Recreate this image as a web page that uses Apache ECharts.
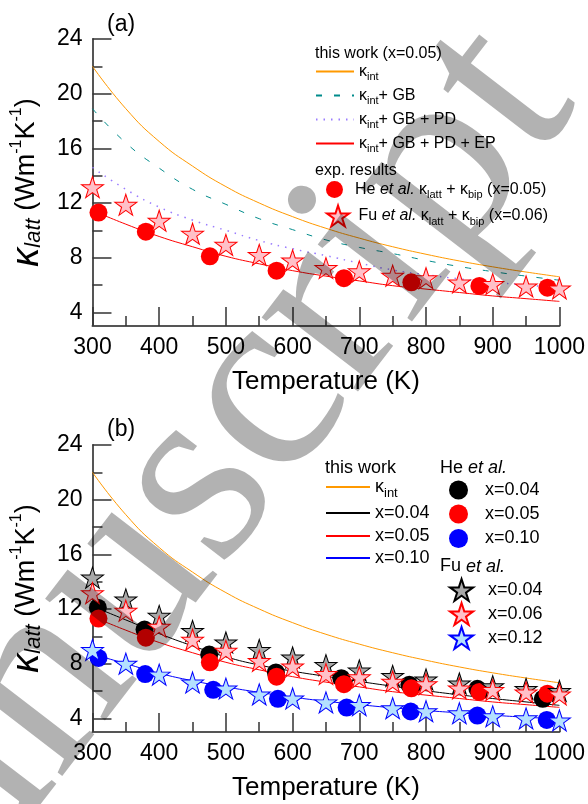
<!DOCTYPE html>
<html>
<head>
<meta charset="utf-8">
<script src="https://cdn.jsdelivr.net/npm/echarts@6/dist/echarts.min.js"></script>
<style>
  html, body { margin: 0; padding: 0; background: #fff; }
  #chart { width: 588px; height: 804px; }
</style>
</head>
<body>
<div id="chart"></div>
<script>
const FONT = '"Liberation Sans", Arial, sans-serif';

// model curves (this work)
const tModel = [300, 350, 400, 450, 500, 550, 600, 650, 700, 750, 800, 850, 900, 950, 1000];
const kInt = [22.0, 18.9, 16.5, 14.7, 13.2, 12.0, 11.0, 10.15, 9.43, 8.8, 8.25, 7.76, 7.33, 6.95, 6.6];
const kGB = [18.9, 16.4, 14.55, 13.0, 11.9, 10.85, 10.05, 9.3, 8.75, 8.3, 7.8, 7.35, 6.98, 6.65, 6.35];
const kPD = [14.6, 13.0, 11.7, 10.75, 10.0, 9.25, 8.65, 8.15, 7.6, 7.1, 6.75, 6.45, 6.2, 6.0, 5.8];
const kEP05 = [11.45, 10.45, 9.55, 8.8, 8.1, 7.55, 7.05, 6.65, 6.3, 5.95, 5.7, 5.45, 5.2, 5.0, 4.8];
const kEP04 = [12.2, 11.2, 10.2, 9.3, 8.5, 7.9, 7.45, 7.07, 6.7, 6.35, 6.02, 5.72, 5.45, 5.2, 4.95];
const kEP10 = [8.7, 8.0, 7.3, 6.75, 6.3, 5.9, 5.55, 5.25, 5.0, 4.77, 4.57, 4.4, 4.23, 4.08, 3.95];

// He et al.
const tHe04 = [308, 378, 475, 575, 673, 775, 877, 975];
const he04 = [12.1, 10.5, 8.67, 7.36, 6.94, 6.46, 6.16, 5.43];
const tHe05 = [309, 380, 476, 576, 677, 778, 880, 982];
const he05 = [11.3, 9.9, 8.1, 7.05, 6.5, 6.2, 5.93, 5.8];
const tHe10 = [309, 379, 481, 578, 681, 777, 877, 981];
const he10 = [8.42, 7.24, 6.09, 5.43, 4.79, 4.5, 4.2, 3.88];

// Fu et al.
const tFu = [300, 350, 400, 450, 500, 550, 600, 650, 700, 750, 800, 850, 900, 950, 1000];
const fu04 = [14.3, 12.7, 11.5, 10.4, 9.55, 9.0, 8.45, 7.9, 7.5, 7.1, 6.85, 6.55, 6.35, 6.15, 6.0];
const fu06 = [13.16, 11.87, 10.7, 9.75, 8.94, 8.2, 7.8, 7.24, 7.0, 6.68, 6.5, 6.19, 6.07, 5.9, 5.75];
const fu12 = [9.0, 8.0, 7.2, 6.62, 6.18, 5.75, 5.45, 5.17, 4.97, 4.74, 4.52, 4.37, 4.15, 4.0, 3.85];

const yMajor = [4, 8, 12, 16, 20, 24];
const yMinor = [6, 10, 14, 18, 22];

const STAR = 'path://M0,-10 L2.245,-3.09 L9.51,-3.09 L3.633,1.18 L5.88,8.09 L0,3.82 L-5.88,8.09 L-3.633,1.18 L-9.51,-3.09 L-2.245,-3.09 Z';

function zip(xs, ys) {
  return xs.map((x, i) => [x, ys[i]]);
}

const labels = {
  a_int: '{k|κ}{s|int}',
  a_gb: '{k|κ}{s|int}{n|+ GB}',
  a_pd: '{k|κ}{s|int}{n|+ GB + PD}',
  a_ep: '{k|κ}{s|int}{n|+ GB + PD + EP}',
  a_he: '{n|He }{i|et al.}{n| }{k|κ}{s|latt}{n| + }{k|κ}{s|bip}{n| (x=0.05)}',
  a_fu: '{n|Fu }{i|et al.}{n| }{k|κ}{s|latt}{n| + }{k|κ}{s|bip}{n| (x=0.06)}',
  b_int: '{k|κ}{s|int}',
  b_l04: '{n|x=0.04}',
  b_l05: '{n|x=0.05}',
  b_l10: '{n|x=0.10}',
  b_he04: '{n|x=0.04}',
  b_he05: '{n|x=0.05}',
  b_he10: '{n|x=0.10}',
  b_fu04: '{n|x=0.04}',
  b_fu06: '{n|x=0.06}',
  b_fu12: '{n|x=0.12}'
};

function rich(fs) {
  const lh = Math.round(fs * 1.4);
  const sub = Math.round(fs * 0.7);
  return {
    n: { fontSize: fs, lineHeight: lh, fontFamily: FONT, color: '#000' },
    i: { fontSize: fs, lineHeight: lh, fontFamily: FONT, fontStyle: 'italic', color: '#000' },
    k: { fontSize: fs, lineHeight: lh, fontFamily: FONT, color: '#000' },
    s: { fontSize: sub, lineHeight: sub, fontFamily: FONT, verticalAlign: 'bottom', color: '#000' }
  };
}

// one legend box per entry, so every row sits where it does in the figure
function leg(name, left, cy, w, h, fs, isLine) {
  const lh = Math.round(fs * 1.4);
  const ih = isLine ? 3 : h;
  const o = {
    data: [name], left: left, top: cy + 0.5 - Math.max(ih, lh) / 2,
    orient: 'vertical', padding: 0, itemGap: 0,
    itemWidth: w, itemHeight: ih, selectedMode: false,
    formatter: () => labels[name],
    textStyle: { color: '#000', fontFamily: FONT, fontSize: fs, rich: rich(fs) }
  };
  if (isLine) o.itemStyle = { opacity: 0 };
  return o;
}

function xAx(gi) {
  return {
    type: 'value', gridIndex: gi, min: 300, max: 1000, interval: 100,
    name: 'Temperature (K)', nameLocation: 'middle', nameGap: 43,
    nameTextStyle: { fontSize: 26, color: '#000', fontFamily: FONT },
    axisLine: { lineStyle: { color: '#555', width: 2 } },
    axisTick: { inside: true, length: 19, lineStyle: { color: '#333', width: 1.5 } },
    minorTick: { show: true, splitNumber: 2, length: 10, lineStyle: { color: '#333', width: 1.5 } },
    axisLabel: { fontSize: 23, color: '#000', margin: 10, fontFamily: FONT, formatter: (v) => String(v) },
    splitLine: { show: false }
  };
}

function yAx(gi) {
  return {
    type: 'value', gridIndex: gi, min: 3, max: 24, position: 'left',
    name: '{k|κ}{s|latt}{n| (Wm}{p|-1}{n|K}{p|-1}{n|)}',
    nameLocation: 'middle', nameRotate: 90, nameGap: 40,
    nameTextStyle: {
      rich: {
        k: { fontSize: 38, fontStyle: 'italic', fontFamily: FONT, lineHeight: 36, color: '#000' },
        s: { fontSize: 22, fontStyle: 'italic', fontFamily: FONT, lineHeight: 22, verticalAlign: 'bottom', color: '#000' },
        n: { fontSize: 27, fontFamily: FONT, lineHeight: 36, color: '#000' },
        p: { fontSize: 16, fontFamily: FONT, lineHeight: 16, verticalAlign: 'top', color: '#000' }
      }
    },
    axisLine: { lineStyle: { color: '#555', width: 2 } },
    axisTick: { inside: true, length: 19, customValues: yMajor, lineStyle: { color: '#333', width: 1.5 } },
    axisLabel: { fontSize: 23, color: '#000', margin: 10, fontFamily: FONT, customValues: yMajor },
    splitLine: { show: false }
  };
}

function yMinorAx(gi) {
  return {
    type: 'value', gridIndex: gi, min: 3, max: 24, position: 'left',
    axisLine: { show: false },
    axisTick: { inside: true, length: 10, customValues: yMinor, lineStyle: { color: '#333', width: 1.5 } },
    axisLabel: { show: false },
    splitLine: { show: false }
  };
}

function line(name, xi, yi, data, color, type, width) {
  return {
    name: name, type: 'line', xAxisIndex: xi, yAxisIndex: yi,
    data: data, smooth: true, symbol: 'none', showSymbol: false,
    lineStyle: { color: color, width: width || 1, type: type || 'solid' },
    itemStyle: { color: color }, z: 2, silent: true
  };
}

function dots(name, xi, yi, data, color, z) {
  return {
    name: name, type: 'scatter', xAxisIndex: xi, yAxisIndex: yi,
    data: data, symbol: 'circle', symbolSize: 18,
    itemStyle: { color: color, opacity: 1 }, z: z, silent: true
  };
}

function stars(name, xi, yi, data, fill, border, z) {
  return {
    name: name, type: 'scatter', xAxisIndex: xi, yAxisIndex: yi,
    data: data, symbol: STAR, symbolSize: [22, 21],
    itemStyle: { color: fill, borderColor: border, borderWidth: 1, opacity: 1 }, z: z, silent: true
  };
}

function txt(x, y, text, fs, richStyles) {
  return {
    type: 'text', x: x, y: y, silent: true,
    style: {
      text: text, fontSize: fs, fontFamily: FONT, fill: '#000',
      verticalAlign: 'middle', rich: richStyles
    }
  };
}

const italic = (fs) => ({ i: { fontSize: fs, fontStyle: 'italic', fontFamily: FONT, fill: '#000' } });

const chart = echarts.init(document.getElementById('chart'), null, { renderer: 'canvas' });

chart.setOption({
  animation: false,
  backgroundColor: '#fff',
  grid: [
    { left: 89, top: 39, width: 470.5, height: 287 },
    { left: 89, top: 445, width: 470.5, height: 287 }
  ],
  xAxis: [xAx(0), xAx(1)],
  yAxis: [yAx(0), yMinorAx(0), yAx(1), yMinorAx(1)],
  legend: [
    leg('a_int', 315, 74, 38, 14, 16, true),
    leg('a_gb', 315, 98, 38, 14, 16, true),
    leg('a_pd', 315, 122, 38, 14, 16, true),
    leg('a_ep', 315, 146, 38, 14, 16, true),
    leg('a_he', 326, 191.5, 31, 17, 16),
    leg('a_fu', 326, 215, 31, 21, 16),
    leg('b_int', 325, 490, 44, 14, 18, true),
    leg('b_l04', 325, 516, 44, 14, 18, true),
    leg('b_l05', 325, 539, 44, 14, 18, true),
    leg('b_l10', 325, 561, 44, 14, 18, true),
    leg('b_he04', 449, 492.5, 43, 19, 18),
    leg('b_he05', 449, 516.5, 43, 19, 18),
    leg('b_he10', 449, 541, 43, 19, 18),
    leg('b_fu04', 449, 590, 43, 22, 18),
    leg('b_fu06', 449, 614, 43, 22, 18),
    leg('b_fu12', 449, 638, 43, 22, 18)
  ],
  series: [
    // panel (a)
    line('a_int', 0, 0, zip(tModel, kInt), '#ff9900'),
    line('a_gb', 0, 0, zip(tModel, kGB), '#008b8b', [6, 12]),
    line('a_pd', 0, 0, zip(tModel, kPD), '#9a7cff', [1.5, 6], 1.5),
    line('a_ep', 0, 0, zip(tModel, kEP05), '#ff0000'),
    dots('a_he', 0, 0, zip(tHe05, he05), '#ff0000', 3),
    stars('a_fu', 0, 0, zip(tFu, fu06), '#ffc0c8', '#ff0000', 4),
    // panel (b)
    line('b_int', 1, 2, zip(tModel, kInt), '#ff9900'),
    line('b_l04', 1, 2, zip(tModel, kEP04), '#000000'),
    line('b_l05', 1, 2, zip(tModel, kEP05), '#ff0000'),
    line('b_l10', 1, 2, zip(tModel, kEP10), '#0000ff'),
    dots('b_he04', 1, 2, zip(tHe04, he04), '#000000', 3),
    dots('b_he05', 1, 2, zip(tHe05, he05), '#ff0000', 3),
    dots('b_he10', 1, 2, zip(tHe10, he10), '#0000ff', 3),
    stars('b_fu04', 1, 2, zip(tFu, fu04), '#a8a8a8', '#000000', 4),
    stars('b_fu06', 1, 2, zip(tFu, fu06), '#ffc0c8', '#ff0000', 4),
    stars('b_fu12', 1, 2, zip(tFu, fu12), '#b4e0ff', '#0000ff', 4)
  ],
  graphic: [
    txt(107, 25, '(a)', 23),
    txt(107, 430, '(b)', 23),
    txt(315, 54, 'this work (x=0.05)', 16),
    txt(315, 170.5, 'exp. results', 16),
    txt(325, 468, 'this work', 18),
    txt(440, 468, 'He {i|et al.}', 18, italic(18)),
    txt(440, 566.5, 'Fu {i|et al.}', 18, italic(18)),
    {
      type: 'text', x: 156, y: 540, rotation: 0.915, silent: true, z: 100,
      style: {
        text: 'Manuscript', fontSize: 265, fontFamily: '"Liberation Serif", serif',
        fill: 'rgba(0,0,0,0.3)', align: 'center', verticalAlign: 'middle'
      }
    }
  ]
});
</script>
</body>
</html>
